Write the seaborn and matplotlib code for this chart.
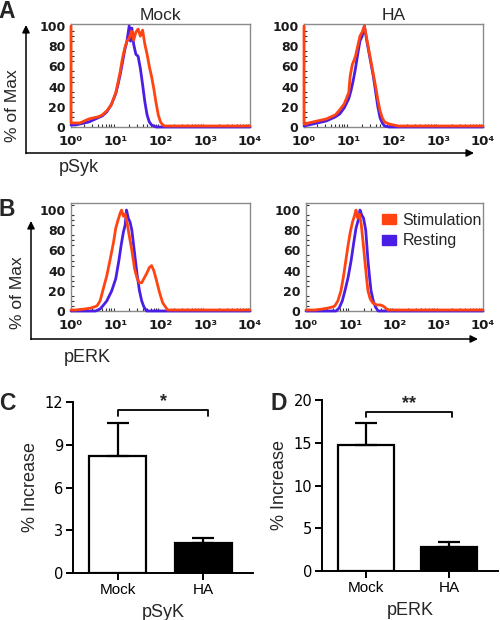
import numpy as np
import pandas as pd
import matplotlib
matplotlib.use("Agg")
import matplotlib.pyplot as plt
import matplotlib.ticker as mticker
from matplotlib.patches import Patch
import seaborn as sns

# ---- histogram data (log10 fluorescence position, % of max) ----
a_mock_rest_x = [0.0, 0.1, 0.2, 0.3, 0.4, 0.5, 0.6, 0.7, 0.8, 0.9, 1.0, 1.05, 1.1, 1.15, 1.2, 1.25,
                 1.3, 1.33, 1.36, 1.4, 1.45, 1.5, 1.55, 1.6, 1.65, 1.7, 1.75, 1.8, 1.9, 2.0, 3.0, 4.0]
a_mock_rest_y = [2, 2, 3, 4, 5, 7, 9, 11, 15, 22, 33, 42, 52, 64, 76, 85,
                 100, 85, 98, 82, 72, 70, 58, 42, 25, 12, 5, 2, 0, 0, 0, 0]
a_mock_stim_x = [0.0, 0.0, 0.05, 0.2, 0.3, 0.4, 0.5, 0.6, 0.7, 0.8, 0.9, 1.0, 1.05, 1.1, 1.15, 1.2,
                 1.25, 1.3, 1.35, 1.4, 1.45, 1.5, 1.55, 1.6, 1.65, 1.7, 1.75, 1.8, 1.85, 1.9, 1.95,
                 2.0, 2.05, 2.1, 2.2, 3.0, 4.0]
a_mock_stim_y = [100, 4, 4, 4, 6, 8, 9, 10, 12, 16, 22, 34, 44, 55, 68, 78,
                 85, 88, 95, 86, 94, 97, 90, 96, 82, 72, 60, 50, 38, 24, 12,
                 5, 2, 1, 1, 1, 1]

a_ha_rest_x = [0.0, 0.1, 0.2, 0.3, 0.4, 0.5, 0.6, 0.7, 0.8, 0.9, 1.0, 1.05, 1.1, 1.15, 1.2, 1.25,
               1.3, 1.35, 1.4, 1.45, 1.5, 1.55, 1.6, 1.65, 1.7, 1.75, 1.8, 1.9, 2.0, 3.0, 4.0]
a_ha_rest_y = [1, 2, 3, 4, 5, 6, 8, 10, 13, 19, 28, 36, 46, 58, 72, 85,
               90, 100, 86, 74, 62, 50, 35, 20, 9, 4, 1, 0, 0, 0, 0]
a_ha_stim_x = [0.0, 0.0, 0.05, 0.1, 0.2, 0.3, 0.4, 0.5, 0.6, 0.7, 0.8, 0.9, 1.0, 1.03, 1.08, 1.1,
               1.15, 1.2, 1.25, 1.3, 1.35, 1.4, 1.45, 1.5, 1.55, 1.6, 1.65, 1.7, 1.75, 1.8, 1.9,
               2.0, 2.1, 3.0, 4.0]
a_ha_stim_y = [100, 3, 3, 4, 5, 6, 7, 8, 10, 12, 17, 23, 34, 50, 62, 64,
               70, 80, 90, 94, 100, 88, 76, 64, 52, 40, 27, 16, 9, 5, 3,
               2, 1, 1, 1]

b_mock_rest_x = [0.0, 0.4, 0.55, 0.65, 0.71, 0.8, 0.91, 1.0, 1.07, 1.12, 1.17, 1.21, 1.24, 1.28,
                 1.32, 1.36, 1.4, 1.44, 1.48, 1.53, 1.58, 1.63, 1.69, 2.0, 3.0, 4.0]
b_mock_rest_y = [0, 0, 0, 2, 5, 10, 20, 32, 50, 65, 78, 85, 100, 92,
                 88, 80, 65, 50, 35, 20, 10, 4, 0, 0, 0, 0]
b_mock_stim_x = [0.0, 0.1, 0.31, 0.45, 0.58, 0.65, 0.71, 0.8, 0.87, 0.95, 1.0, 1.05, 1.1, 1.13,
                 1.17, 1.21, 1.25, 1.3, 1.36, 1.42, 1.48, 1.53, 1.58, 1.64, 1.7, 1.75, 1.8, 1.85,
                 1.9, 1.98, 2.05, 2.16, 2.3, 3.0, 4.0]
b_mock_stim_y = [1, 1, 2, 3, 5, 10, 20, 35, 50, 68, 82, 90, 97, 100,
                 94, 96, 88, 75, 60, 42, 32, 28, 28, 33, 38, 43, 45, 40,
                 32, 18, 8, 1, 1, 1, 1]

b_ha_rest_x = [0.0, 0.5, 0.68, 0.75, 0.82, 0.88, 0.95, 1.02, 1.08, 1.13, 1.18, 1.22, 1.26, 1.3,
               1.35, 1.4, 1.44, 1.47, 1.52, 1.57, 1.63, 2.0, 3.0, 4.0]
b_ha_rest_y = [0, 0, 0, 3, 10, 20, 33, 50, 68, 82, 90, 100, 95, 92,
               80, 50, 32, 20, 10, 4, 0, 0, 0, 0]
b_ha_stim_x = [0.0, 0.2, 0.38, 0.5, 0.6, 0.65, 0.72, 0.79, 0.85, 0.9, 0.95, 1.0, 1.05, 1.1,
               1.13, 1.17, 1.21, 1.25, 1.29, 1.33, 1.37, 1.4, 1.45, 1.51, 1.6, 1.68, 1.74, 1.8,
               1.85, 2.0, 3.0, 4.0]
b_ha_stim_y = [1, 1, 2, 3, 4, 5, 10, 20, 35, 50, 65, 78, 88, 95,
               100, 92, 96, 85, 68, 50, 32, 20, 12, 8, 6, 6, 5, 3,
               1, 1, 1, 1]

# ---- bar data ----
groups = ["Mock", "HA"]
psyk_mean = [8.2, 2.1]
psyk_err = [2.33, 0.35]
perk_mean = [14.75, 2.75]
perk_err = [2.55, 0.6]

RED = "#ff4412"
BLUE = "#4b1ee6"
SPINE = "#8a8a8a"
SUP = str.maketrans("-0123456789", "\u207b\u2070\u00b9\u00b2\u00b3\u2074\u2075\u2076\u2077\u2078\u2079")

sns.set_style("white")
plt.rcParams["font.family"] = ["Liberation Sans", "DejaVu Sans"]

W, H = 500, 620
fig = plt.figure(figsize=(5, 6.2), dpi=100)


def px_axes(x0, y0, x1, y1):
    return fig.add_axes([x0 / W, 1 - y1 / H, (x1 - x0) / W, (y1 - y0) / H])


# overlay for arrows and labels, in pixel coords
ov = fig.add_axes([0, 0, 1, 1], zorder=0)
ov.set_xlim(0, W)
ov.set_ylim(H, 0)
ov.axis("off")


def decade_label(v, pos):
    return "10" + str(int(round(np.log10(v)))).translate(SUP)


def hist_panel(ax, rx, ry, sx, sy, ytop, title=None, legend=False):
    df = pd.concat([
        pd.DataFrame({"x": 10 ** np.array(rx), "y": ry, "state": "Resting"}),
        pd.DataFrame({"x": 10 ** np.array(sx), "y": sy, "state": "Stimulation"}),
    ], ignore_index=True)
    sns.lineplot(data=df, x="x", y="y", hue="state", hue_order=["Resting", "Stimulation"],
                 palette={"Resting": BLUE, "Stimulation": RED}, estimator=None, sort=False,
                 lw=2.0, ax=ax, legend=False)
    for ln in ax.lines:
        ln.set_clip_on(False)
        ln.set_zorder(3)
    ax.set_xscale("log")
    ax.set_xlim(1, 1e4)
    ax.set_ylim(0, ytop)
    ax.set_xlabel("")
    ax.set_ylabel("")
    ax.set_yticks([0, 20, 40, 60, 80, 100])
    ax.yaxis.set_minor_locator(mticker.MultipleLocator(5))
    ax.set_xticks([1, 10, 100, 1000, 10000])
    ax.xaxis.set_minor_locator(mticker.LogLocator(base=10, subs=np.arange(2, 10), numticks=10))
    ax.xaxis.set_major_formatter(mticker.FuncFormatter(decade_label))
    ax.tick_params(axis="both", which="major", direction="out", length=3, width=1,
                   labelsize=9, pad=1, color="#333333", labelcolor="#1a1a1a")
    ax.tick_params(axis="x", which="major", labelsize=9.5, pad=3)
    ax.tick_params(axis="both", which="minor", direction="in", length=2, width=0.8, color="#333333")
    ax.tick_params(axis="y", which="minor", left=True)
    ax.tick_params(axis="x", which="minor", bottom=True)
    for s in ax.spines.values():
        s.set_color(SPINE)
        s.set_linewidth(1.0)
        s.set_visible(True)
    for lab in ax.get_yticklabels() + ax.get_xticklabels():
        lab.set_fontfamily("DejaVu Sans")
        lab.set_fontweight("bold")
    if title:
        ax.set_title(title, fontsize=12.5, pad=3)
    if legend:
        handles = [Patch(facecolor=RED, edgecolor=RED), Patch(facecolor=BLUE, edgecolor=BLUE)]
        ax.legend(handles, ["Stimulation", "Resting"], loc="upper right", frameon=False,
                  fontsize=11.5, handlelength=0.9, handleheight=0.6, handletextpad=0.4,
                  labelspacing=0.35, borderaxespad=0.0, bbox_to_anchor=(1.03, 0.97))


ax_am = px_axes(71, 24, 250, 127)
hist_panel(ax_am, a_mock_rest_x, a_mock_rest_y, a_mock_stim_x, a_mock_stim_y, 102, "Mock")
ax_ah = px_axes(304, 24, 483, 127)
hist_panel(ax_ah, a_ha_rest_x, a_ha_rest_y, a_ha_stim_x, a_ha_stim_y, 102, "HA")
ax_bm = px_axes(71, 203, 250, 311)
hist_panel(ax_bm, b_mock_rest_x, b_mock_rest_y, b_mock_stim_x, b_mock_stim_y, 107)
ax_bh = px_axes(306, 203, 483, 311)
hist_panel(ax_bh, b_ha_rest_x, b_ha_rest_y, b_ha_stim_x, b_ha_stim_y, 107, legend=True)

# axis arrows
arrow = dict(arrowstyle="-|>", lw=1.1, color="black", mutation_scale=11, shrinkA=0, shrinkB=0)
ov.annotate("", xy=(474, 153), xytext=(26, 153), arrowprops=arrow)
ov.annotate("", xy=(26, 25), xytext=(26, 153.5), arrowprops=arrow)
ov.annotate("", xy=(478, 339), xytext=(31, 339), arrowprops=arrow)
ov.annotate("", xy=(31, 221), xytext=(31, 339.5), arrowprops=arrow)
ov.text(13, 106, "% of Max", rotation=90, ha="center", va="center", fontsize=12.5)
ov.text(18, 293, "% of Max", rotation=90, ha="center", va="center", fontsize=12.5)
ov.text(79, 167, "pSyk", ha="center", va="center", fontsize=13)
ov.text(87, 358, "pERK", ha="center", va="center", fontsize=13)

for letter, (lx, ly) in {"A": (7, 12), "B": (7, 210), "C": (7, 403), "D": (279, 403)}.items():
    ov.text(lx, ly, letter, ha="center", va="center", fontsize=16.5, fontweight="bold")


def bar_panel(ax, means, errs, ymax, yticks, xlabel, bracket_y, tip_y, stars, bx1):
    sns.barplot(x=groups, y=means, hue=groups, palette=["white", "black"], edgecolor="black",
                linewidth=1.6, width=0.67, ax=ax, legend=False, errorbar=None)
    ax.errorbar([0, 1], means, yerr=[[0, 0], errs], fmt="none", ecolor="black",
                elinewidth=1.6, capsize=8, capthick=1.6)
    ax.set_ylim(0, ymax)
    ax.set_yticks(yticks)
    ax.set_xlim(-0.52, 1.58)
    sns.despine(ax=ax)
    for s in ["left", "bottom"]:
        ax.spines[s].set_linewidth(1.4)
        ax.spines[s].set_color("black")
    ax.tick_params(axis="both", direction="out", length=5, width=1.4, labelsize=11,
                   bottom=True, left=True, colors="black", pad=2)
    for lab in ax.get_yticklabels():
        lab.set_fontfamily("DejaVu Sans")
        lab.set_fontsize(10.5)
    ax.set_ylabel("% Increase", fontsize=13, labelpad=4)
    ax.set_xlabel(xlabel, fontsize=13, labelpad=5)
    ax.plot([0, 0, bx1, bx1], [tip_y, bracket_y, bracket_y, tip_y], color="black", lw=1.3,
            clip_on=False)
    ax.text((0 + bx1) / 2, bracket_y, stars, ha="center", va="bottom", fontsize=13,
            fontweight="bold")


ax_c = px_axes(73, 402, 253, 573)
bar_panel(ax_c, psyk_mean, psyk_err, 12, [0, 3, 6, 9, 12], "pSyK", 11.45, 11.05, "*", 1.06)
ax_d = px_axes(322, 400, 498, 571)
bar_panel(ax_d, perk_mean, perk_err, 20, [0, 5, 10, 15, 20], "pERK", 18.6, 18.0, "**", 1.03)

fig.savefig("out.png", dpi=100)
